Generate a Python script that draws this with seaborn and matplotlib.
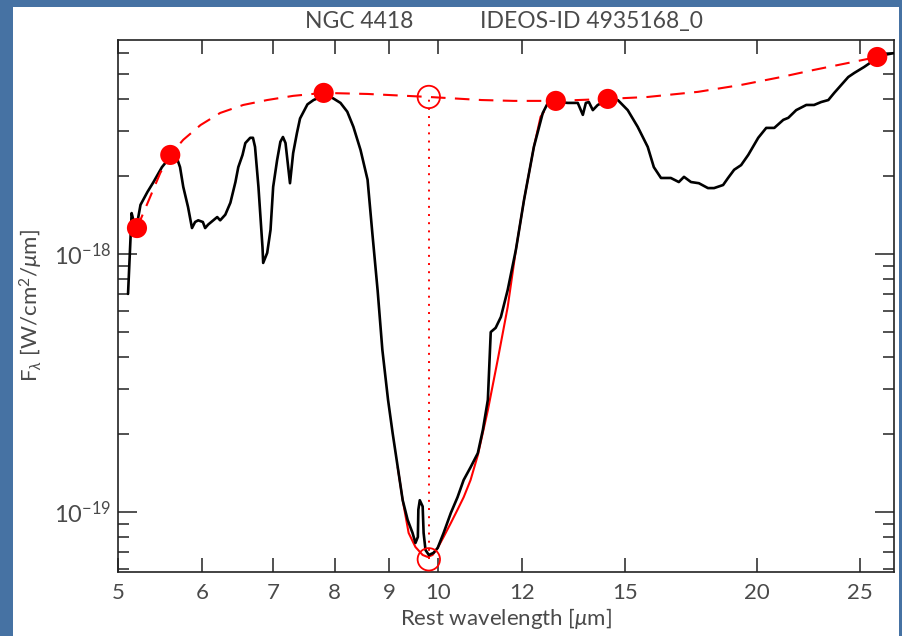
import numpy as np
import pandas as pd
import matplotlib
matplotlib.use("Agg")
import matplotlib.pyplot as plt
import matplotlib.ticker as mticker
from matplotlib.patches import Rectangle
import seaborn as sns

# Observed rest-frame spectrum (wavelength in micron, flux in 1e-18 W/cm^2/micron)
wave = [5.11, 5.15, 5.17, 5.21, 5.25, 5.33, 5.40, 5.50, 5.60, 5.66, 5.72, 5.76, 5.82,
        5.87, 5.91, 5.95, 6.01, 6.04, 6.08, 6.20, 6.24, 6.31, 6.38, 6.45, 6.49, 6.55,
        6.59, 6.66, 6.70, 6.73, 6.78, 6.84, 6.85, 6.91, 6.96, 7.00, 7.06, 7.11, 7.15,
        7.19, 7.26, 7.31, 7.37, 7.42, 7.54, 7.64, 7.76, 7.85, 7.98, 8.10, 8.22, 8.33,
        8.46, 8.59, 8.68, 8.78, 8.87, 8.98, 9.07, 9.17, 9.27, 9.37, 9.47, 9.53, 9.58,
        9.59, 9.62, 9.68, 9.70, 9.74, 9.81, 9.91, 10.00, 10.13, 10.29, 10.44, 10.58,
        10.74, 10.91, 11.03, 11.15, 11.22, 11.34, 11.47, 11.64, 11.85, 12.06, 12.32,
        12.56, 12.70, 12.98, 13.26, 13.55, 13.70, 13.79, 13.88, 14.00, 14.15, 14.46,
        14.78, 15.10, 15.43, 15.77, 15.98, 16.23, 16.58, 16.87, 17.06, 17.32, 17.62,
        17.97, 18.21, 18.57, 18.77, 19.02, 19.31, 19.61, 20.04, 20.39, 20.75, 21.16,
        21.39, 21.76, 22.24, 22.62, 22.97, 23.33, 23.63, 23.99, 24.36, 24.68, 25.22,
        25.78, 26.34, 26.92]
flux = [0.70, 1.44, 1.35, 1.30, 1.55, 1.74, 1.90, 2.17, 2.38, 2.46, 2.17, 1.82, 1.52,
        1.26, 1.33, 1.35, 1.33, 1.26, 1.30, 1.39, 1.35, 1.42, 1.58, 1.90, 2.17, 2.42,
        2.69, 2.82, 2.82, 2.60, 1.82, 1.06, 0.923, 1.01, 1.24, 1.82, 2.31, 2.72, 2.84,
        2.69, 1.88, 2.46, 2.94, 3.35, 3.80, 3.95, 4.06, 4.15, 4.00, 3.85, 3.56, 3.11,
        2.53, 1.94, 1.20, 0.72, 0.425, 0.272, 0.202, 0.149, 0.111, 0.0931, 0.0829,
        0.0758, 0.080, 0.102, 0.111, 0.105, 0.0829, 0.0712, 0.0681, 0.0694, 0.0725,
        0.0829, 0.0991, 0.114, 0.133, 0.149, 0.169, 0.208, 0.272, 0.498, 0.517, 0.570,
        0.725, 1.04, 1.62, 2.60, 3.52, 3.85, 3.88, 3.85, 3.85, 3.46, 3.85, 3.88, 3.61,
        3.78, 3.95, 3.95, 3.61, 3.11, 2.60, 2.17, 1.97, 1.97, 1.90, 1.99, 1.90, 1.88,
        1.80, 1.80, 1.85, 1.97, 2.12, 2.21, 2.42, 2.82, 3.08, 3.08, 3.31, 3.37, 3.61,
        3.78, 3.78, 3.88, 3.95, 4.21, 4.52, 4.85, 5.03, 5.31, 5.65, 5.91, 6.01]

# Local continuum through the pivot points
cont_wave = [5.21, 5.36, 5.48, 5.60, 5.76, 5.98, 6.24, 6.56, 6.91, 7.31, 7.81, 8.59,
             9.81, 11.0, 11.79, 12.92, 14.46, 15.77, 17.59, 19.31, 21.06, 22.62, 24.36, 25.94]
cont_flux = [1.26, 1.66, 2.06, 2.42, 2.77, 3.16, 3.52, 3.78, 3.95, 4.10, 4.21, 4.17,
             4.06, 3.95, 3.92, 3.92, 3.99, 4.06, 4.25, 4.52, 4.85, 5.17, 5.50, 5.80]

# Pivot points of the continuum
pivot_wave = [5.21, 5.60, 7.81, 12.92, 14.46, 25.94]
pivot_flux = [1.26, 2.42, 4.21, 3.92, 3.99, 5.80]

# Fit of the silicate absorption feature
fit_wave = [9.17, 9.27, 9.39, 9.53, 9.68, 9.785, 9.89, 10.00, 10.13, 10.29, 10.44,
            10.58, 10.74, 10.91, 11.15, 11.39, 11.64, 11.85, 12.06, 12.32, 12.50, 12.59]
fit_flux = [0.149, 0.111, 0.0829, 0.0731, 0.0681, 0.0669, 0.0681, 0.0725, 0.080,
            0.0906, 0.102, 0.114, 0.133, 0.166, 0.248, 0.388, 0.623, 1.04, 1.62,
            2.60, 3.40, 3.55]

# Silicate peak: wavelength, continuum level and feature minimum
sil_wave = 9.81
sil_cont = 4.06
sil_min = 0.0655

source_name = "NGC 4418"
source_id = "IDEOS-ID 4935168_0"

scale = 1e-18
spec = pd.DataFrame({"wave": wave, "flux": np.array(flux) * scale})
cont = pd.DataFrame({"wave": cont_wave, "flux": np.array(cont_flux) * scale})
piv = pd.DataFrame({"wave": pivot_wave, "flux": np.array(pivot_flux) * scale})
fit = pd.DataFrame({"wave": fit_wave, "flux": np.array(fit_flux) * scale})

sns.set_style("ticks")
plt.rcParams["font.family"] = ["Lato", "DejaVu Sans"]
plt.rcParams["mathtext.fontset"] = "custom"
plt.rcParams["mathtext.rm"] = "Lato"
plt.rcParams["mathtext.it"] = "Lato:italic"
plt.rcParams["mathtext.fallback"] = "stixsans"

txt = "#4a4a4a"
W, H = 903, 636
fig = plt.figure(figsize=(W / 100, H / 100), dpi=100, facecolor="#4672a3")
# white page inside the blue frame
fig.patches.append(Rectangle((13 / W, 0), (899 - 13) / W, (H - 7) / H,
                             transform=fig.transFigure, facecolor="white",
                             edgecolor="none", zorder=-10))
ax = fig.add_axes([118 / W, (H - 572) / H, (894 - 118) / W, (572 - 40) / H])
ax.set_facecolor("white")

ax.set_xscale("log")
ax.set_yscale("log")

sns.lineplot(data=fit, x="wave", y="flux", ax=ax, color="red", lw=1.5, sort=False,
             zorder=2)
sns.lineplot(data=spec, x="wave", y="flux", ax=ax, color="black", lw=1.9, sort=False,
             zorder=3)
sns.lineplot(data=cont, x="wave", y="flux", ax=ax, color="red", lw=1.5, sort=False,
             zorder=4)
ax.lines[-1].set_dashes([7, 4.5])
ax.plot([sil_wave, sil_wave], [sil_min * scale, sil_cont * scale], color="red",
        lw=1.4, ls=(0, (1, 3.2)), zorder=4)
sns.scatterplot(data=piv, x="wave", y="flux", ax=ax, color="red", s=210,
                edgecolor="none", zorder=5)
ax.scatter([sil_wave, sil_wave], [sil_cont * scale, sil_min * scale], s=260,
           facecolor="none", edgecolor="red", linewidths=1.3, zorder=6)

ax.set_xlim(5.0, 26.9)
ax.set_ylim(5.85e-20, 6.75e-18)

xt = [5, 6, 7, 8, 9, 10, 12, 15, 20, 25]
ax.xaxis.set_major_locator(mticker.FixedLocator(xt))
ax.xaxis.set_major_formatter(mticker.FixedFormatter([str(v) for v in xt]))
ax.xaxis.set_minor_locator(mticker.NullLocator())
ax.yaxis.set_major_locator(mticker.FixedLocator([1e-19, 1e-18]))
ax.yaxis.set_minor_locator(mticker.LogLocator(base=10, subs=np.arange(2, 10)))
ax.yaxis.set_minor_formatter(mticker.NullFormatter())
ax.yaxis.set_major_formatter(mticker.FuncFormatter(
    lambda v, p: r"$10^{%d}$" % int(round(np.log10(v)))))

ax.tick_params(axis="both", which="both", direction="in", top=True, right=True,
               colors="#222222", labelcolor=txt, width=1.1)
ax.tick_params(axis="x", which="major", length=10, labelsize=16, pad=8)
ax.tick_params(axis="y", which="major", length=14, labelsize=17, pad=5)
ax.tick_params(axis="y", which="minor", length=8)
for s in ax.spines.values():
    s.set_color("#222222")
    s.set_linewidth(1.2)

ax.set_xlabel(r"Rest wavelength [$\mu$m]", fontsize=16, color=txt, labelpad=2)
ax.set_ylabel(r"F$_\lambda$ [W/cm$^2$/$\mu$m]", fontsize=16, color=txt, labelpad=6)

# Header: source name and catalogue identifier
fig.text(305 / W, 1 - 28 / H, source_name, fontsize=16.5, color=txt,
         ha="left", va="baseline")
fig.text(480 / W, 1 - 28 / H, source_id, fontsize=16.5, color=txt,
         ha="left", va="baseline")

fig.savefig("out.png", dpi=100, facecolor=fig.get_facecolor())
